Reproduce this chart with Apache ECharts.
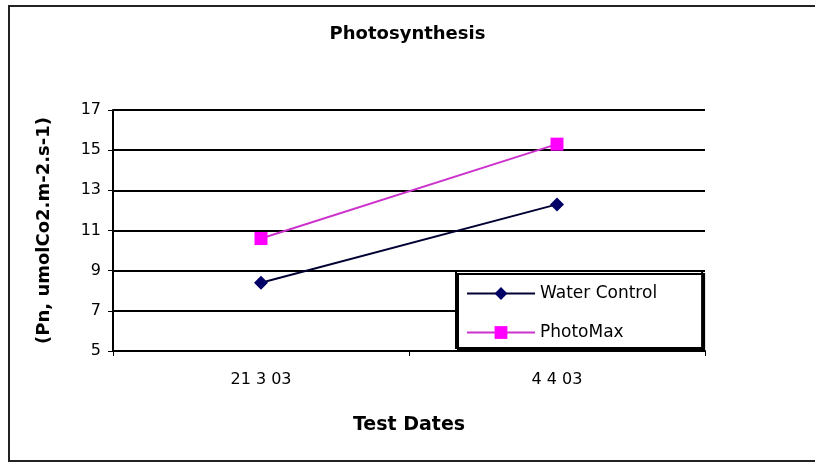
<!DOCTYPE html>
<html>
<head>
<meta charset="utf-8">
<script src="https://cdn.jsdelivr.net/npm/echarts@6/dist/echarts.min.js"></script>
<style>
html,body{margin:0;padding:0;background:#fff;}
#chart{width:815px;height:462px;}
</style>
</head>
<body>
<div id="chart"></div>
<script>
// 光合作用 数据
var categories = ['21 3 03', '4 4 03'];
var waterControl = [8.4, 12.3];
var photoMax = [10.6, 15.3];
var yTicks = [5, 7, 9, 11, 13, 15, 17];

var myChart = echarts.init(document.getElementById('chart'));
var option = {
	backgroundColor: '#fff',
	animation: false,
	textStyle: {
		fontFamily: 'DejaVu Sans, sans-serif'
	},
	graphic: [{
		type: 'rect',
		shape: { x: 9, y: 6, width: 830, height: 455 },
		style: { fill: 'none', stroke: '#222', lineWidth: 2 },
		silent: true
	}],
	title: {
		text: 'Photosynthesis',
		left: 'center',
		top: 20,
		textStyle: {
			fontSize: 18,
			fontWeight: 'bold',
			color: '#000',
			fontFamily: 'DejaVu Sans, sans-serif'
		}
	},
	legend: {
		data: ['Water Control', 'PhotoMax'],
		orient: 'vertical',
		left: 456,
		top: 271,
		padding: [14, 45, 7, 10],
		itemGap: 22,
		itemWidth: 68,
		itemHeight: 16,
		backgroundColor: '#fff',
		borderColor: '#000',
		borderWidth: 2,
		shadowColor: '#000',
		shadowOffsetX: 2,
		shadowOffsetY: 3,
		shadowBlur: 0,
		textStyle: {
			fontSize: 17,
			color: '#000'
		}
	},
	grid: {
		left: 113,
		right: 110,
		top: 110,
		bottom: 111,
		containLabel: false
	},
	xAxis: {
		type: 'category',
		data: categories,
		boundaryGap: true,
		name: 'Test Dates',
		nameLocation: 'middle',
		nameGap: 65,
		nameTextStyle: {
			fontSize: 19,
			fontWeight: 'bold',
			color: '#000'
		},
		axisLine: { lineStyle: { color: '#000', width: 2 } },
		axisTick: { show: true, inside: false, length: 5, lineStyle: { color: '#000' } },
		axisLabel: { color: '#000', fontSize: 16, margin: 21 },
		splitLine: { show: false }
	},
	yAxis: {
		type: 'value',
		min: yTicks[0],
		max: yTicks[yTicks.length - 1],
		interval: 2,
		name: '(Pn, umolCo2.m-2.s-1)',
		nameLocation: 'middle',
		nameGap: 60,
		nameRotate: 90,
		nameTextStyle: {
			fontSize: 18,
			fontWeight: 'bold',
			color: '#000'
		},
		axisLine: { show: true, lineStyle: { color: '#000', width: 2 } },
		axisTick: { show: true, length: 5, lineStyle: { color: '#000' } },
		axisLabel: { color: '#000', fontSize: 16, margin: 12 },
		splitLine: { show: true, lineStyle: { color: '#000', width: 2 } }
	},
	series: [{
		name: 'Water Control',
		type: 'line',
		data: waterControl,
		symbol: 'diamond',
		symbolSize: 14,
		itemStyle: { color: '#000066' },
		lineStyle: { color: '#000033', width: 2 }
	}, {
		name: 'PhotoMax',
		type: 'line',
		data: photoMax,
		symbol: 'rect',
		symbolSize: 13,
		itemStyle: { color: '#ff00ff' },
		lineStyle: { color: '#cc33cc', width: 2 }
	}]
};
myChart.setOption(option);
</script>
</body>
</html>
